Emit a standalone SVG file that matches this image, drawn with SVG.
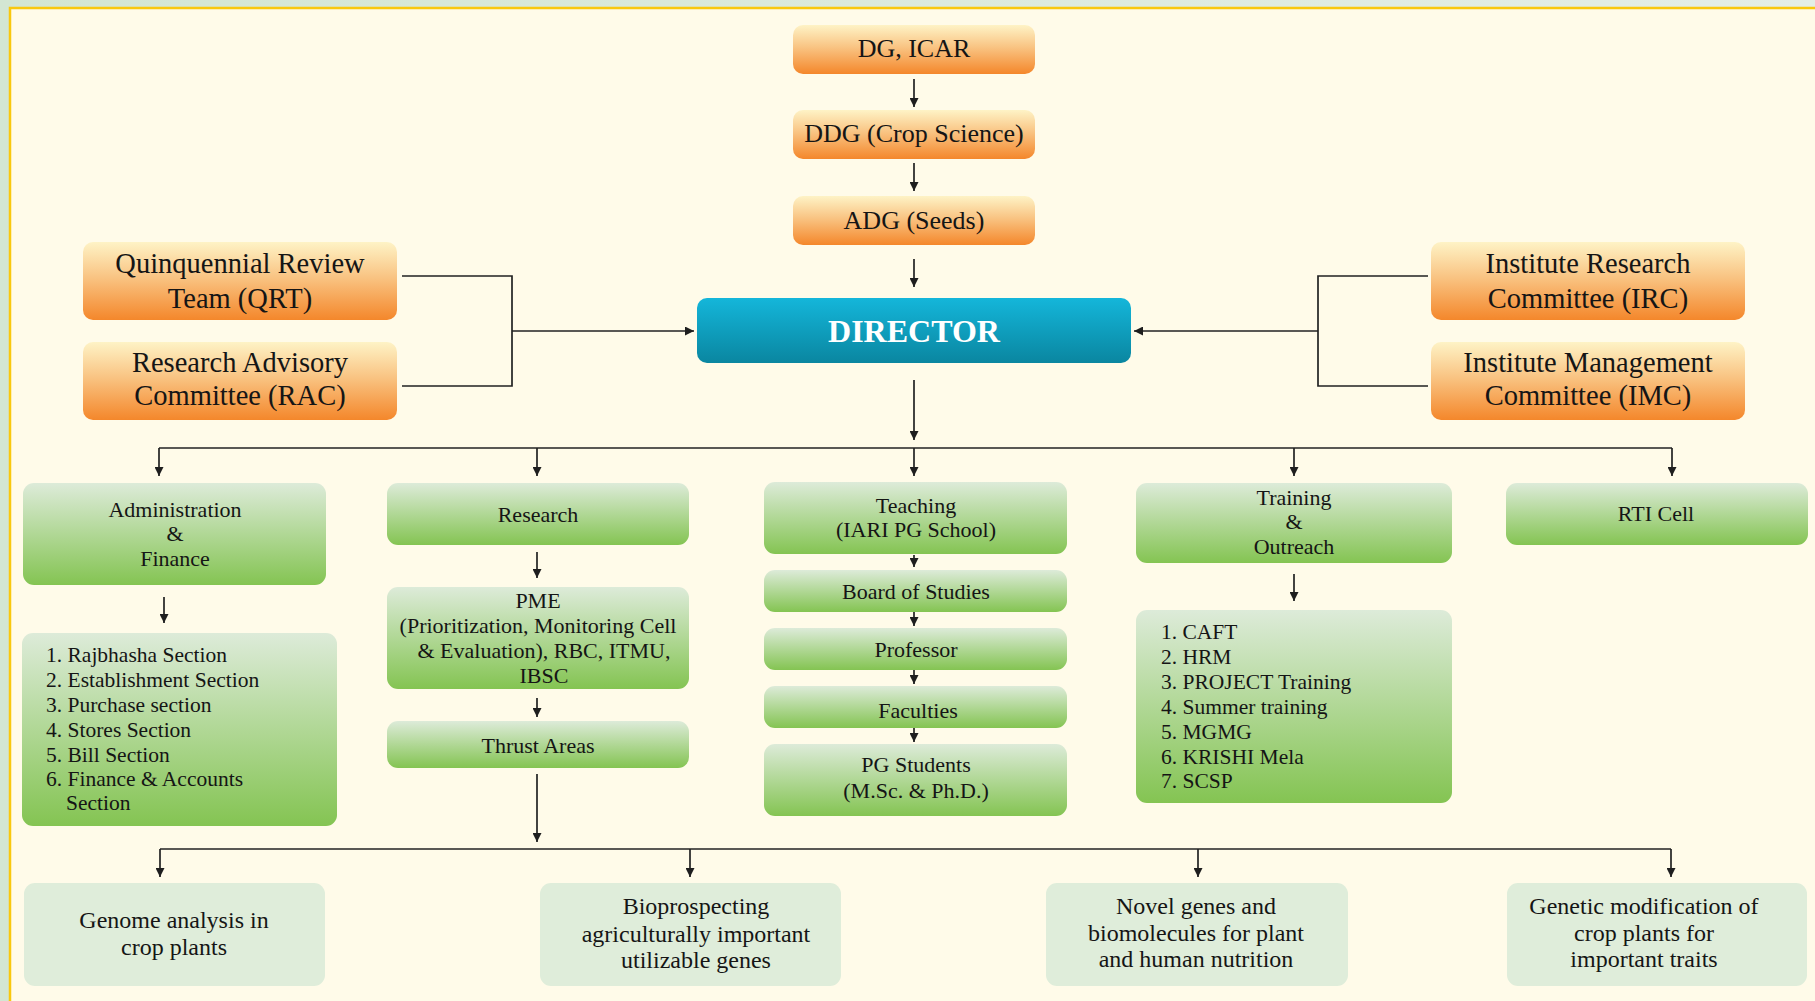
<svg xmlns="http://www.w3.org/2000/svg" width="1815" height="1001" viewBox="0 0 1815 1001">
<defs>
<linearGradient id="gOrange" x1="0" y1="0" x2="0" y2="1">
<stop offset="0" stop-color="#FEF3C6"/>
<stop offset="0.45" stop-color="#F9C483"/>
<stop offset="1" stop-color="#F4872B"/>
</linearGradient>
<linearGradient id="gGreen" x1="0" y1="0" x2="0" y2="1">
<stop offset="0" stop-color="#DDEBD9"/>
<stop offset="1" stop-color="#84C452"/>
</linearGradient>
<linearGradient id="gBlue" x1="0" y1="0" x2="0" y2="1">
<stop offset="0" stop-color="#14B6DA"/>
<stop offset="1" stop-color="#0A86A0"/>
</linearGradient>
<linearGradient id="gBg" x1="0" y1="0" x2="1" y2="0">
<stop offset="0" stop-color="#D3E6D3"/>
<stop offset="1" stop-color="#E4EEE6"/>
</linearGradient>
<marker id="arr" viewBox="0 0 10 10" refX="10" refY="5" markerWidth="9" markerHeight="9" markerUnits="userSpaceOnUse" orient="auto">
<path d="M0,0 L10,5 L0,10 z" fill="#1e1e1e"/>
</marker>
<style>
.t{font-family:"Liberation Serif","DejaVu Serif",serif;fill:#151515;text-anchor:middle}
.big{font-size:28.5px}
.top{font-size:26px}
.med{font-size:22px}
.bot{font-size:24px}
.lst{font-family:"Liberation Serif","DejaVu Serif",serif;fill:#151515;font-size:21.5px}
.or{fill:url(#gOrange)}
.gr{fill:url(#gGreen)}
.pl{fill:#DFEDDA}
.ln{fill:none;stroke:#222;stroke-width:1.7}
.la{fill:none;stroke:#222;stroke-width:1.7;marker-end:url(#arr)}
</style>
</defs>
<rect x="0" y="0" width="1815" height="1001" fill="url(#gBg)"/>
<rect x="10" y="8" width="1815" height="1010" fill="#FFFBE9" stroke="#F9C80E" stroke-width="2.5"/>

<g id="connectors">
<path class="la" d="M914,79 V107"/>
<path class="la" d="M914,163 V191"/>
<path class="la" d="M914,259 V287"/>
<path class="ln" d="M402,276 H512 V386 H402"/>
<path class="la" d="M512,331 H694"/>
<path class="ln" d="M1428,276 H1318 V386 H1428"/>
<path class="la" d="M1318,331 H1134"/>
<path class="la" d="M914,380 V440"/>
<path class="ln" d="M159,448 H1672"/>
<path class="la" d="M159,448 V476"/>
<path class="la" d="M537,448 V476"/>
<path class="la" d="M914,448 V476"/>
<path class="la" d="M1294,448 V476"/>
<path class="la" d="M1672,448 V476"/>
<path class="la" d="M164,597 V623"/>
<path class="la" d="M537,552 V578"/>
<path class="la" d="M537,698 V717"/>
<path class="la" d="M914,555 V567"/>
<path class="la" d="M914,612 V626"/>
<path class="la" d="M914,670 V684"/>
<path class="la" d="M914,728 V742"/>
<path class="la" d="M1294,574 V601"/>
<path class="la" d="M537,774 V842"/>
<path class="ln" d="M160,849 H1671"/>
<path class="la" d="M160,849 V877"/>
<path class="la" d="M690,849 V877"/>
<path class="la" d="M1198,849 V877"/>
<path class="la" d="M1671,849 V877"/>
</g>

<g id="dg">
<rect class="or" x="793" y="25" width="242" height="49" rx="10"/>
<text class="t top" x="914" y="57">DG, ICAR</text>
</g>
<g id="ddg">
<rect class="or" x="793" y="110" width="242" height="49" rx="10"/>
<text class="t top" x="914" y="142">DDG (Crop Science)</text>
</g>
<g id="adg">
<rect class="or" x="793" y="196" width="242" height="49" rx="10"/>
<text class="t top" x="914" y="229">ADG (Seeds)</text>
</g>
<g id="director">
<rect x="697" y="298" width="434" height="65" rx="10" fill="url(#gBlue)"/>
<text x="914" y="342" font-family="Liberation Serif, DejaVu Serif, serif" font-size="32" font-weight="bold" fill="#ffffff" text-anchor="middle">DIRECTOR</text>
</g>
<g id="qrt">
<rect class="or" x="83" y="242" width="314" height="78" rx="10"/>
<text class="t big" x="240" y="273">Quinquennial Review</text>
<text class="t big" x="240" y="308">Team (QRT)</text>
</g>
<g id="rac">
<rect class="or" x="83" y="342" width="314" height="78" rx="10"/>
<text class="t big" x="240" y="372">Research Advisory</text>
<text class="t big" x="240" y="405">Committee (RAC)</text>
</g>
<g id="irc">
<rect class="or" x="1431" y="242" width="314" height="78" rx="10"/>
<text class="t big" x="1588" y="273">Institute Research</text>
<text class="t big" x="1588" y="308">Committee (IRC)</text>
</g>
<g id="imc">
<rect class="or" x="1431" y="342" width="314" height="78" rx="10"/>
<text class="t big" x="1588" y="372">Institute Management</text>
<text class="t big" x="1588" y="405">Committee (IMC)</text>
</g>

<g id="admin">
<rect class="gr" x="23" y="483" width="303" height="102" rx="11"/>
<text class="t med" x="175" y="517">Administration</text>
<text class="t med" x="175" y="541">&amp;</text>
<text class="t med" x="175" y="566">Finance</text>
</g>
<g id="admin-list">
<rect class="gr" x="22" y="633" width="315" height="193" rx="11"/>
<text class="lst" x="46" y="662">1. Rajbhasha Section</text>
<text class="lst" x="46" y="687">2. Establishment Section</text>
<text class="lst" x="46" y="712">3. Purchase section</text>
<text class="lst" x="46" y="737">4. Stores Section</text>
<text class="lst" x="46" y="762">5. Bill Section</text>
<text class="lst" x="46" y="786">6. Finance &amp; Accounts</text>
<text class="lst" x="66" y="810">Section</text>
</g>
<g id="research">
<rect class="gr" x="387" y="483" width="302" height="62" rx="11"/>
<text class="t med" x="538" y="522">Research</text>
</g>
<g id="pme">
<rect class="gr" x="387" y="587" width="302" height="102" rx="11"/>
<text class="t med" x="538" y="608">PME</text>
<text class="t med" x="538" y="633">(Prioritization, Monitoring Cell</text>
<text class="t med" x="544" y="658">&amp; Evaluation), RBC, ITMU,</text>
<text class="t med" x="544" y="683">IBSC</text>
</g>
<g id="thrust">
<rect class="gr" x="387" y="721" width="302" height="47" rx="11"/>
<text class="t med" x="538" y="753">Thrust Areas</text>
</g>
<g id="teaching">
<rect class="gr" x="764" y="482" width="303" height="72" rx="11"/>
<text class="t med" x="916" y="513">Teaching</text>
<text class="t med" x="916" y="537">(IARI PG School)</text>
</g>
<g id="bos">
<rect class="gr" x="764" y="570" width="303" height="42" rx="11"/>
<text class="t med" x="916" y="599">Board of Studies</text>
</g>
<g id="professor">
<rect class="gr" x="764" y="628" width="303" height="42" rx="11"/>
<text class="t med" x="916" y="657">Professor</text>
</g>
<g id="faculties">
<rect class="gr" x="764" y="686" width="303" height="42" rx="11"/>
<text class="t med" x="918" y="718">Faculties</text>
</g>
<g id="pgstudents">
<rect class="gr" x="764" y="744" width="303" height="72" rx="11"/>
<text class="t med" x="916" y="772">PG Students</text>
<text class="t med" x="916" y="798">(M.Sc. &amp; Ph.D.)</text>
</g>
<g id="training">
<rect class="gr" x="1136" y="483" width="316" height="80" rx="11"/>
<text class="t med" x="1294" y="505">Training</text>
<text class="t med" x="1294" y="529">&amp;</text>
<text class="t med" x="1294" y="554">Outreach</text>
</g>
<g id="training-list">
<rect class="gr" x="1136" y="610" width="316" height="193" rx="11"/>
<text class="lst" x="1161" y="639">1. CAFT</text>
<text class="lst" x="1161" y="664">2. HRM</text>
<text class="lst" x="1161" y="689">3. PROJECT Training</text>
<text class="lst" x="1161" y="714">4. Summer training</text>
<text class="lst" x="1161" y="739">5. MGMG</text>
<text class="lst" x="1161" y="764">6. KRISHI Mela</text>
<text class="lst" x="1161" y="788">7. SCSP</text>
</g>
<g id="rti">
<rect class="gr" x="1506" y="483" width="302" height="62" rx="11"/>
<text class="t med" x="1656" y="521">RTI Cell</text>
</g>

<g id="genome">
<rect class="pl" x="24" y="883" width="301" height="103" rx="11"/>
<text class="t bot" x="174" y="928">Genome analysis in</text>
<text class="t bot" x="174" y="955">crop plants</text>
</g>
<g id="bioprospecting">
<rect class="pl" x="540" y="883" width="301" height="103" rx="11"/>
<text class="t bot" x="696" y="914">Bioprospecting</text>
<text class="t bot" x="696" y="942">agriculturally important</text>
<text class="t bot" x="696" y="968">utilizable genes</text>
</g>
<g id="novel">
<rect class="pl" x="1046" y="883" width="302" height="103" rx="11"/>
<text class="t bot" x="1196" y="914">Novel genes and</text>
<text class="t bot" x="1196" y="941">biomolecules for plant</text>
<text class="t bot" x="1196" y="967">and human nutrition</text>
</g>
<g id="genetic">
<rect class="pl" x="1507" y="883" width="300" height="103" rx="11"/>
<text class="t bot" x="1644" y="914">Genetic modification of</text>
<text class="t bot" x="1644" y="941">crop plants for</text>
<text class="t bot" x="1644" y="967">important traits</text>
</g>
</svg>
